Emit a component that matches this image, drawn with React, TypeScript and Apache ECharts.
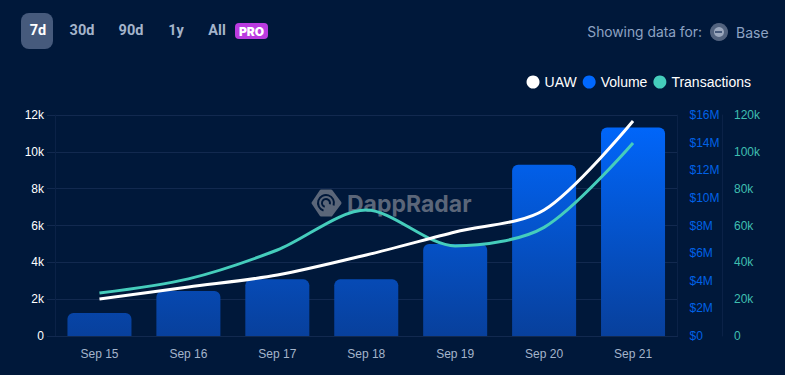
import React, { useEffect, useRef } from "react";
import * as echarts from "echarts";

const categories = ["Sep 15", "Sep 16", "Sep 17", "Sep 18", "Sep 19", "Sep 20", "Sep 21"];
const volume = [1.66, 3.26, 4.1, 4.1, 6.66, 12.4, 15.1];
const uaw = [2010, 2660, 3310, 4400, 5650, 6840, 11670];
const transactions = [23300, 31000, 46700, 68400, 48900, 59000, 104800];
const ranges = ["7d", "30d", "90d", "1y", "All"];
const rangeX = [38, 82, 131, 176, 217];

const BG = "#00183a";
const MARK = "#5b6679";
const kFmt = (v: number) => (v === 0 ? "0" : v / 1000 + "k");

export default function App() {
  const ref = useRef<HTMLDivElement>(null);
  useEffect(() => {
    document.body.style.margin = "0";
    document.body.style.background = BG;
    const chart = echarts.init(ref.current!, undefined, { renderer: "svg" });
    const barFill = new echarts.graphic.LinearGradient(0, 115, 0, 336, [
      { offset: 0, color: "#0068ff" },
      { offset: 1, color: "#08409c" },
    ], true);
    const btnStyle = { fontFamily: "Roboto", fontSize: 14.5, fontWeight: 700 };
    chart.setOption({
      animation: false,
      backgroundColor: BG,
      grid: { left: 55, right: 107.5, top: 115, bottom: 39, containLabel: false },
      legend: {
        top: 70,
        right: 29,
        icon: "circle",
        itemWidth: 13,
        itemHeight: 13,
        itemGap: 6,
        data: ["UAW", "Volume", "Transactions"],
        textStyle: { color: "#ffffff", fontFamily: "Liberation Sans", fontSize: 14 },
      },
      xAxis: {
        type: "category",
        data: categories,
        axisTick: { show: false },
        axisLine: { lineStyle: { color: "#12294f" } },
        axisLabel: { color: "#a4b4cb", fontFamily: "Liberation Sans", fontSize: 12, margin: 12 },
      },
      yAxis: [
        {
          type: "value", min: 0, max: 12000, interval: 2000,
          axisLine: { show: true, lineStyle: { color: "#0b2247" } },
          axisTick: { show: true, length: 8, lineStyle: { color: "#12294f" } },
          splitLine: { lineStyle: { color: "#12294f" } },
          axisLabel: { color: "#ffffff", fontFamily: "Liberation Sans", fontSize: 12, margin: 11, formatter: kFmt },
        },
        {
          type: "value", min: 0, max: 16, interval: 2, position: "right",
          axisLine: { show: true, lineStyle: { color: "#0b2247" } },
          axisTick: { show: false },
          splitLine: { show: false },
          axisLabel: { color: "#0062e6", fontFamily: "Liberation Sans", fontSize: 12, margin: 12, formatter: (v: number) => "$" + v + (v === 0 ? "" : "M") },
        },
        {
          type: "value", min: 0, max: 120000, interval: 20000, position: "right", offset: 45,
          axisLine: { show: true, lineStyle: { color: "#0b2247" } },
          axisTick: { show: false },
          splitLine: { show: false },
          axisLabel: { color: "#3fbfb0", fontFamily: "Liberation Sans", fontSize: 12, margin: 11.5, formatter: kFmt },
        },
      ],
      series: [
        { name: "UAW", type: "line", yAxisIndex: 0, data: uaw, smooth: 0.3, showSymbol: false, z: 4,
          itemStyle: { color: "#ffffff" }, lineStyle: { color: "#ffffff", width: 3 } },
        { name: "Volume", type: "bar", yAxisIndex: 1, data: volume, barWidth: 64, z: 2,
          itemStyle: { color: barFill, borderRadius: [6, 6, 0, 0] } },
        { name: "Transactions", type: "line", yAxisIndex: 2, data: transactions, smooth: 0.3, showSymbol: false, z: 3,
          itemStyle: { color: "#45cdbc" }, lineStyle: { color: "#45cdbc", width: 3 } },
      ],
      graphic: [
        { type: "rect", z: 0, shape: { x: 21, y: 13, width: 32, height: 36, r: 8 }, style: { fill: "#465a7c" } },
        ...ranges.map((t, i) => ({
          type: "text", z: 1, x: rangeX[i], y: 30,
          style: { ...btnStyle, text: t, fill: i === 0 ? "#ffffff" : "#a4b4cb", align: "center", verticalAlign: "middle" },
        })),
        { type: "rect", z: 0, shape: { x: 235, y: 23, width: 33, height: 16, r: 4 }, style: { fill: "#bb3be0" } },
        { type: "text", z: 1, x: 251.5, y: 31, style: { text: "PRO", fill: "#ffffff", fontFamily: "Inter", fontWeight: 900, fontSize: 12, align: "center", verticalAlign: "middle" } },
        { type: "text", z: 1, x: 702, y: 32, style: { text: "Showing data for:", fill: "#8ea3c3", fontFamily: "Inter", fontSize: 13.8, align: "right", verticalAlign: "middle" } },
        { type: "circle", z: 0, shape: { cx: 719, cy: 32, r: 9 }, style: { fill: "#52637f" } },
        { type: "circle", z: 1, shape: { cx: 719, cy: 32, r: 5 }, style: { fill: "#9aa7bd" } },
        { type: "rect", z: 1, shape: { x: 715, y: 31, width: 7, height: 2 }, style: { fill: "#465a7c" } },
        { type: "text", z: 1, x: 736, y: 32, style: { text: "Base", fill: "#8ea3c3", fontFamily: "Inter", fontSize: 14, verticalAlign: "middle" } },
        { type: "polygon", z: 0, shape: { points: [[321, 191], [331, 191], [340, 203], [331, 215], [321, 215], [313, 203]] }, style: { fill: MARK, stroke: MARK, lineWidth: 3, lineJoin: "round" } },
        { type: "arc", z: 0, shape: { cx: 326, cy: 203, r: 8, startAngle: Math.PI * 0.6, endAngle: Math.PI * 2.1 }, style: { fill: "none", stroke: BG, lineWidth: 2 } },
        { type: "arc", z: 0, shape: { cx: 326, cy: 203, r: 4, startAngle: Math.PI * 0.6, endAngle: Math.PI * 2.1 }, style: { fill: "none", stroke: BG, lineWidth: 2 } },
        { type: "text", z: 0, x: 347, y: 204, style: { text: "DappRadar", fill: MARK, fontFamily: "Inter", fontWeight: 700, fontSize: 23, verticalAlign: "middle" } },
      ],
    });
    return () => chart.dispose();
  }, []);
  return <div ref={ref} style={{ width: 785, height: 375 }} />;
}
